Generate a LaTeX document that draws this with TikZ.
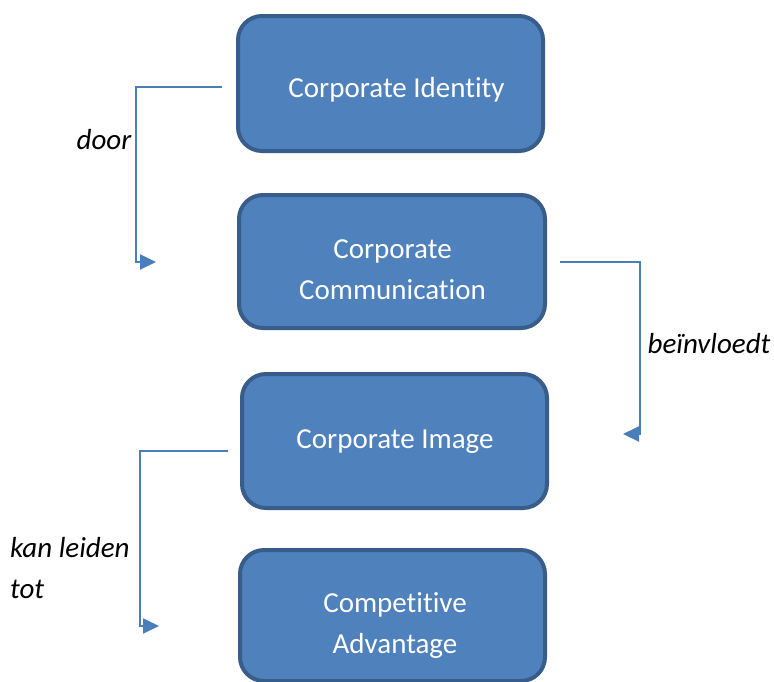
\documentclass[tikz,border=0pt]{standalone}
\usepackage{fontspec}
\setmainfont{Carlito}[RawFeature={-liga;-clig;-dlig}]
\usetikzlibrary{arrows.meta}
\definecolor{boxfill}{HTML}{4F81BD}
\definecolor{boxline}{HTML}{385D8A}
\definecolor{conn}{HTML}{4A7EBB}
\tikzset{
  box/.style={draw=boxline, fill=boxfill, line width=4pt, rounded corners=24pt, inner sep=0pt},
  boxtext/.style={text=white, align=center, inner sep=0pt, anchor=base, font=\fontsize{29}{41}\selectfont},
  conn/.style={draw=conn, line width=2pt, -{Triangle[length=16pt,width=15pt]}},
  lbl/.style={font=\fontsize{29}{41}\selectfont\itshape, inner sep=0pt, anchor=base, align=left}
}
\begin{document}
\begin{tikzpicture}[x=1pt,y=-1pt]
\useasboundingbox (0,0) rectangle (774,681);
\clip (0,0) rectangle (774,681);
\node[box, minimum width=305pt, minimum height=135pt] (a) at (390.5,83.5) {};
\node[box, minimum width=306pt, minimum height=133pt] (b) at (392,261.5) {};
\node[box, minimum width=305pt, minimum height=134pt] (c) at (394.5,441) {};
\node[box, minimum width=305pt, minimum height=131pt] (d) at (392.5,615.5) {};
\node[boxtext] (ta) at (396.5,97) {Corporate Identity};
\node[boxtext] (tb) at (392.5,299) {Corporate\\Communication};
\node[boxtext] (tc) at (395,448) {Corporate Image};
\node[boxtext] (td) at (395,653) {Competitive\\Advantage};
\coordinate (s1) at (222,87);
\coordinate (e1) at (156,262);
\coordinate (s2) at (560,262);
\coordinate (e2) at (623,434);
\coordinate (s3) at (228,451);
\coordinate (e3) at (159,626);
\draw[conn] (s1) -- (136,87) |- (e1);
\draw[conn] (s2) -- (640,262) |- (e2);
\draw[conn] (s3) -- (140,451) |- (e3);
\node[lbl, anchor=base] (l1) at (104,149) {door};
\node[lbl, anchor=base] (l2) at (709,353) {beïnvloedt};
\node[lbl, anchor=base west] (l3) at (10,598) {kan leiden\\tot};
\end{tikzpicture}
\end{document}
